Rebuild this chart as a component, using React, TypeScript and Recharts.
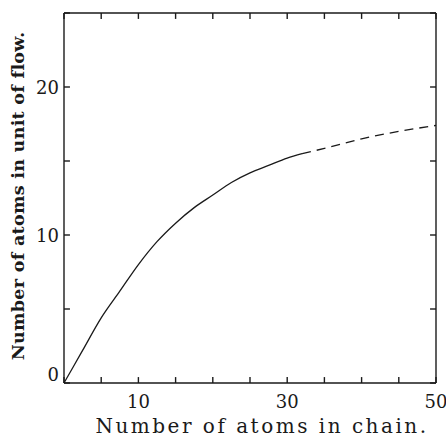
import { Line, LineChart, ReferenceLine, XAxis, YAxis } from "recharts";

const atoms = [0, 2.5, 5, 7.5, 10, 12.5, 15, 17.5, 20, 22.5, 25, 27.5, 30, 32];
const flow = [0, 2.2, 4.4, 6.2, 8.0, 9.55, 10.8, 11.85, 12.7, 13.55, 14.2, 14.7, 15.2, 15.5];
const atomsExtrap = [32, 35, 40, 45, 50];
const flowExtrap = [15.5, 15.85, 16.5, 17.0, 17.4];

const xTicks = [0, 5, 10, 15, 20, 25, 30, 35, 40, 45, 50];
const xLabels = [10, 30, 50];
const yTicks = [0, 5, 10, 15, 20, 25];
const yLabels = [0, 10, 20];

const X_MAX = 50;
const Y_MAX = 25;
// inward tick length in data units, roughly 6px on both axes
const X_TICK_LEN = 0.8;
const Y_TICK_LEN = 0.4;

const solidData = atoms.map((x, i) => ({ x, y: flow[i] }));
const dashedData = atomsExtrap.map((x, i) => ({ x, y: flowExtrap[i] }));

const INK = "#1a1a1a";
const FONT = "'DejaVu Serif', serif";
const FRAME = { stroke: INK, strokeWidth: 1.4 };

function BottomLabel({ x, y, payload }: any) {
  const v = payload.value;
  if (!xLabels.includes(v)) return null;
  return (
    <text x={x} y={y + 25} textAnchor="middle" fontFamily={FONT} fontSize={18} fill={INK}>
      {v}
    </text>
  );
}

function LeftLabel({ x, y, payload }: any) {
  const v = payload.value;
  if (!yLabels.includes(v)) return null;
  return (
    <text x={x - 5} y={v === 0 ? y - 2 : y + 6.5} textAnchor="end" fontFamily={FONT} fontSize={18} fill={INK}>
      {v}
    </text>
  );
}

const NoLabel = () => null;

export default function App() {
  const tickMark = { xAxisId: "bottom", yAxisId: "left", stroke: INK, strokeWidth: 1.4 };
  return (
    <div style={{ position: "absolute", left: 0, top: 0, width: 446, height: 437, background: "#fff" }}>
      <LineChart width={446} height={437} data={solidData} margin={{ top: 12, right: 9, bottom: 0, left: 0 }}>
        <XAxis
          xAxisId="bottom"
          type="number"
          dataKey="x"
          domain={[0, X_MAX]}
          ticks={xTicks}
          interval={0}
          height={54}
          tickSize={0}
          tickMargin={0}
          tickLine={false}
          tick={<BottomLabel />}
          axisLine={FRAME}
        />
        <XAxis
          xAxisId="top"
          orientation="top"
          type="number"
          dataKey="x"
          domain={[0, X_MAX]}
          ticks={xTicks}
          height={1}
          tickLine={false}
          tick={<NoLabel />}
          axisLine={FRAME}
        />
        <YAxis
          yAxisId="left"
          type="number"
          domain={[0, Y_MAX]}
          ticks={yTicks}
          interval={0}
          width={64}
          tickSize={0}
          tickMargin={0}
          tickLine={false}
          tick={<LeftLabel />}
          axisLine={FRAME}
        />
        <YAxis
          yAxisId="right"
          orientation="right"
          type="number"
          domain={[0, Y_MAX]}
          ticks={yTicks}
          width={1}
          tickLine={false}
          tick={<NoLabel />}
          axisLine={FRAME}
        />

        {/* inward tick marks on all four sides */}
        {xTicks.map((t) => (
          <ReferenceLine key={`b${t}`} {...tickMark} segment={[{ x: t, y: 0 }, { x: t, y: Y_TICK_LEN }]} />
        ))}
        {xTicks.map((t) => (
          <ReferenceLine key={`t${t}`} {...tickMark} segment={[{ x: t, y: Y_MAX }, { x: t, y: Y_MAX - Y_TICK_LEN }]} />
        ))}
        {yTicks.map((t) => (
          <ReferenceLine key={`l${t}`} {...tickMark} segment={[{ x: 0, y: t }, { x: X_TICK_LEN, y: t }]} />
        ))}
        {yTicks.map((t) => (
          <ReferenceLine key={`r${t}`} {...tickMark} segment={[{ x: X_MAX, y: t }, { x: X_MAX - X_TICK_LEN, y: t }]} />
        ))}

        <Line
          xAxisId="bottom"
          yAxisId="left"
          data={solidData}
          dataKey="y"
          type="monotone"
          stroke={INK}
          strokeWidth={1.3}
          dot={false}
          isAnimationActive={false}
        />
        <Line
          xAxisId="bottom"
          yAxisId="left"
          data={dashedData}
          dataKey="y"
          type="monotone"
          stroke={INK}
          strokeWidth={1.3}
          strokeDasharray="9 6"
          dot={false}
          isAnimationActive={false}
        />
      </LineChart>
      <div
        style={{
          position: "absolute",
          left: 262,
          top: 426,
          transform: "translate(-50%, -50%)",
          fontFamily: FONT,
          fontSize: 20,
          letterSpacing: 2.5,
          color: INK,
          whiteSpace: "nowrap",
        }}
      >
        Number of atoms in chain.
      </div>
      <div
        style={{
          position: "absolute",
          left: 18,
          top: 196,
          transform: "translate(-50%, -50%) rotate(-90deg)",
          fontFamily: FONT,
          fontSize: 17.5,
          fontWeight: "bold",
          letterSpacing: 0.3,
          color: INK,
          whiteSpace: "nowrap",
        }}
      >
        Number of atoms in unit of flow.
      </div>
    </div>
  );
}
